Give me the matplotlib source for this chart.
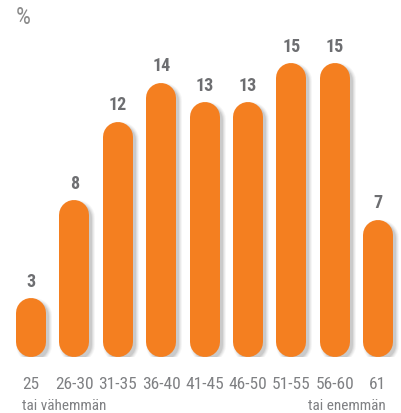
import matplotlib
matplotlib.use("Agg")
import matplotlib.pyplot as plt
from matplotlib import font_manager

# data
categories = ["25", "26-30", "31-35", "36-40", "41-45", "46-50", "51-55", "56-60", "61"]
subtitles = ["tai vähemmän", "", "", "", "", "", "", "", "tai enemmän"]
values = [3, 8, 12, 14, 13, 13, 15, 15, 7]

names = {f.name for f in font_manager.fontManager.ttflist}
narrow = [n for n in ["Roboto Condensed", "Liberation Sans Narrow", "Arial Narrow"] if n in names]
fam = narrow + ["Roboto", "DejaVu Sans"]
plt.rcParams["font.family"] = fam

orange = "#f47f20"
num_grey = "#6d6e71"
lab_grey = "#7f8083"

W, H = 401, 414
fig = plt.figure(figsize=(W / 100, H / 100), dpi=100)
base = 56          # px from bottom to bar base
px_y = 19.6        # px per percent
px_x = 43.4        # px between bars
x0 = 31            # px centre of first bar
ax = fig.add_axes([0, base / H, 1, (H - base) / H])
ax.set_xlim(-x0 / px_x, (W - x0) / px_x)
ax.set_ylim(0, (H - base) / px_y)
ax.axis("off")

bar_px = 30
r = (bar_px / 2) / px_y
lw = bar_px * 0.72

# soft shadow
dx, dy = 3 / px_x, 3 / px_y
for extra, a in [(6, 0.05), (4, 0.07), (2, 0.09), (0, 0.13)]:
    for i, v in enumerate(values):
        ax.plot([i + dx, i + dx], [r - dy, v - r - dy], color="#555555", alpha=a,
                lw=lw + extra * 0.72, solid_capstyle="round")

for i, v in enumerate(values):
    ax.plot([i, i], [r, v - r], color=orange, lw=lw, solid_capstyle="round")
    ax.annotate(str(v), xy=(i, v), xytext=(0, 12.5), textcoords="offset points",
                ha="center", va="center", fontsize=13, fontweight="bold", color=num_grey)

n = len(categories)
for i, (c, s) in enumerate(zip(categories, subtitles)):
    if i == 0:
        ha, off = "left", -6.5
    elif i == n - 1:
        ha, off = "right", 5.5
    else:
        ha, off = "center", 0
    ax.annotate(c, xy=(i, 0), xytext=(off, -19), textcoords="offset points",
                ha=ha, va="center", fontsize=12.5, color=lab_grey, annotation_clip=False)
    if s:
        ax.annotate(s, xy=(i, 0), xytext=(off, -34.5), textcoords="offset points",
                    ha=ha, va="center", fontsize=11, color=lab_grey, annotation_clip=False)

fig.text(16 / W, 1 - 17 / H, "%", fontsize=17, color="#8a8a8a", ha="left", va="center")

fig.savefig("out.png", dpi=100)
